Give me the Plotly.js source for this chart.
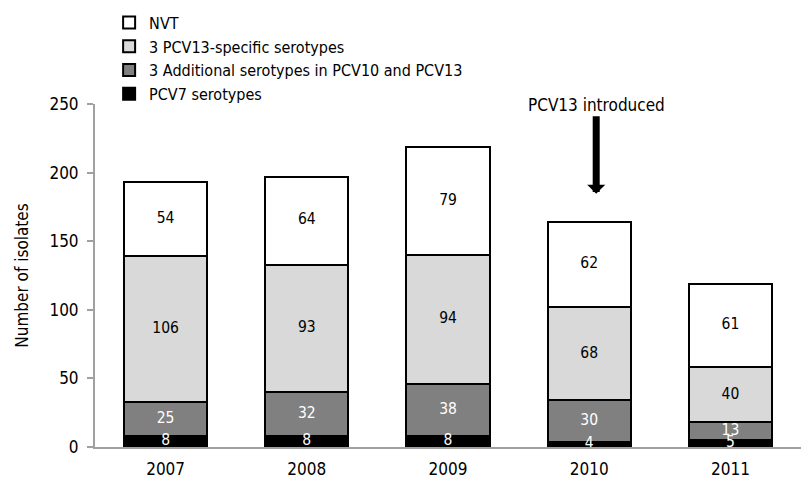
<!DOCTYPE html>
<html>
<head>
<meta charset="utf-8">
<script src="https://cdn.plot.ly/plotly-3.0.1.min.js"></script>
<style>html,body{margin:0;padding:0;background:#fff;}#chart{width:801px;height:479px;}</style>
</head>
<body>
<div id="chart"></div>
<script>
const years = ['2007', '2008', '2009', '2010', '2011'];
const pcv7 = [8, 8, 8, 4, 5];
const additional = [25, 32, 38, 30, 13];
const pcv13specific = [106, 93, 94, 68, 40];
const nvt = [54, 64, 79, 62, 61];
const seriesNames = ['PCV7 serotypes', '3 Additional serotypes in PCV10 and PCV13', '3 PCV13-specific serotypes', 'NVT'];
const yTicks = [0, 50, 100, 150, 200, 250];
const introYear = '2010';
const introLabel = 'PCV13 introduced';

const FONT = 'DejaVu Sans Condensed, Liberation Sans, sans-serif';
const fills = ['#000000', '#808080', '#d9d9d9', '#ffffff'];
const textColors = ['#ffffff', '#ffffff', '#000000', '#000000'];
const series = [pcv7, additional, pcv13specific, nvt];

const traces = series.map((vals, i) => ({
  type: 'bar',
  name: seriesNames[i],
  x: years,
  y: vals,
  marker: {color: fills[i], line: {color: '#000000', width: 2}}
}));

// value labels centred in each stacked segment
const base = years.map(() => 0);
series.forEach((vals, i) => {
  const mids = vals.map((v, j) => base[j] + v / 2);
  vals.forEach((v, j) => { base[j] += v; });
  traces.push({
    type: 'scatter',
    mode: 'text',
    x: years,
    y: mids,
    text: vals.map(String),
    textposition: 'middle center',
    textfont: {family: FONT, size: 15.5, color: textColors[i]},
    showlegend: false,
    hoverinfo: 'skip',
    cliponaxis: false
  });
});

const layout = {
  width: 801, height: 479,
  margin: {l: 95, r: 0, t: 104, b: 32},
  barmode: 'stack',
  bargap: 0.41,
  paper_bgcolor: '#ffffff',
  plot_bgcolor: '#ffffff',
  font: {family: FONT, size: 17, color: '#000000'},
  showlegend: true,
  legend: {
    x: 0.02, y: 1.287, xanchor: 'left', yanchor: 'top',
    traceorder: 'reversed',
    font: {family: FONT, size: 16, color: '#000000'},
    bgcolor: 'rgba(0,0,0,0)'
  },
  xaxis: {
    type: 'category',
    range: [-0.5, 4.5],
    showline: true, linecolor: '#a0a0a0', linewidth: 2,
    ticks: '', showgrid: false, zeroline: false,
    ticklabelstandoff: 6,
    tickfont: {family: FONT, size: 17, color: '#000000'}
  },
  yaxis: {
    range: [0, 250],
    tickvals: yTicks,
    ticktext: yTicks.map(String),
    showline: true, linecolor: '#a0a0a0', linewidth: 2,
    ticks: 'outside', ticklen: 6, tickcolor: '#a0a0a0', tickwidth: 2,
    ticklabelstandoff: 5,
    showgrid: false, zeroline: false,
    tickfont: {family: FONT, size: 17, color: '#000000'},
    title: {text: 'Number of isolates', font: {family: FONT, size: 17, color: '#000000'}, standoff: 16}
  },
  annotations: [{
    x: years.indexOf(introYear), y: 184.5, xref: 'x', yref: 'y',
    xshift: 7,
    text: introLabel,
    font: {family: FONT, size: 17, color: '#000000'},
    showarrow: true, arrowhead: 1, arrowsize: 0.43, arrowwidth: 7, arrowcolor: '#000000',
    ax: 0, ay: -89, standoff: 0
  }]
};

Plotly.newPlot('chart', traces, layout, {displayModeBar: false, staticPlot: true});
</script>
</body>
</html>
